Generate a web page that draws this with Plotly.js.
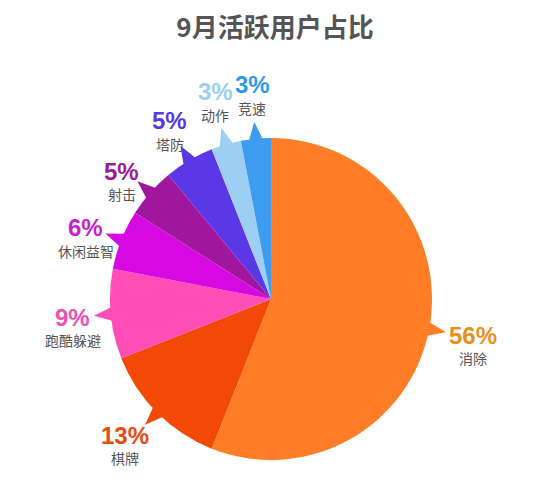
<!DOCTYPE html>
<html>
<head>
<meta charset="utf-8">
<script src="https://cdn.plot.ly/plotly-3.0.1.min.js"></script>
<style>
  html, body { margin: 0; padding: 0; background: #fff; }
  #chart { width: 557px; height: 486px; }
</style>
</head>
<body>
<div id="chart"></div>
<script>
const categories = ["消除", "棋牌", "跑酷躲避", "休闲益智", "射击", "塔防", "动作", "竞速"];
const shares = [56, 13, 9, 6, 5, 5, 3, 3];
const sliceColors = ["#FF7D26", "#F24A06", "#FF4DB8", "#D60AE0", "#A0169C", "#5B38E6", "#9DCFF5", "#3D9BF0"];
const labelColors = ["#E8901A", "#E84A10", "#F050B0", "#C81ED0", "#9C1A96", "#5A3AD8", "#9DCFF0", "#2E9BE8"];

const W = 557, H = 486;
// pie placement in pixels
const cx = 271, cy = 299, r = 161;

const trace = {
  type: "pie",
  values: shares,
  labels: categories,
  sort: false,
  direction: "clockwise",
  rotation: 0,
  marker: { colors: sliceColors, line: { width: 0 } },
  textinfo: "none",
  hoverinfo: "label+percent",
  domain: {
    x: [(cx - r) / W, (cx + r) / W],
    y: [(H - cy - r) / H, (H - cy + r) / H]
  },
  showlegend: false
};

const toPaper = (px, py) => [px / W, 1 - py / H];
const polar = (deg, R) => {
  const a = deg * Math.PI / 180;
  return [cx + R * Math.sin(a), cy - R * Math.cos(a)];
};
const clamp = (v, lo, hi) => Math.min(hi, Math.max(lo, v));

const labelFont = "Liberation Sans, Noto Sans CJK SC, sans-serif";
const total = shares.reduce((a, b) => a + b, 0);
const shapes = [];
const annotations = [];
let acc = 0;
shares.forEach((v, i) => {
  const mid = (acc + v / 2) / total * 360;
  acc += v;

  // little pointer wedge
  const half = 2.8;
  const b1 = polar(mid - half, r - 3);
  const b2 = polar(mid + half, r - 3);
  const tip = polar(mid, r + 17);
  const p = [b1, tip, b2].map(pt => toPaper(pt[0], pt[1]));
  shapes.push({
    type: "path",
    xref: "paper", yref: "paper",
    path: `M${p[0][0]},${p[0][1]} L${p[1][0]},${p[1][1]} L${p[2][0]},${p[2][1]} Z`,
    fillcolor: sliceColors[i],
    line: { width: 0 }
  });

  // percentage next to the tip, name underneath
  const a = mid * Math.PI / 180;
  const dx = Math.sin(a), dy = -Math.cos(a);
  const wp = String(v).length * 13.3 + 21.3;
  const hp = 22, g = 4;
  const px = tip[0] + dx * (g + wp / 2);
  const py = tip[1] + dy * (g + hp / 2) - 22 * clamp((-dy - 0.75) / 0.2, 0, 1);

  const pp = toPaper(px, py);
  annotations.push({
    xref: "paper", yref: "paper",
    x: pp[0], y: pp[1],
    xanchor: "center", yanchor: "middle",
    showarrow: false,
    text: `<b>${v}%</b>`,
    font: { family: labelFont, size: 24, color: labelColors[i] }
  });
  const np = toPaper(px, py + 23);
  annotations.push({
    xref: "paper", yref: "paper",
    x: np[0], y: np[1],
    xanchor: "center", yanchor: "middle",
    showarrow: false,
    text: categories[i],
    font: { family: "Noto Sans CJK SC, sans-serif", size: 14, color: "#555555" }
  });
});

const layout = {
  width: W,
  height: H,
  margin: { l: 0, r: 0, t: 0, b: 0 },
  paper_bgcolor: "#ffffff",
  title: {
    text: "9月活跃用户占比",
    x: 275 / W, xanchor: "center",
    y: 1 - 28 / H, yanchor: "middle",
    font: { family: "Noto Sans CJK SC, sans-serif", size: 26, weight: 700, color: "#555555" }
  },
  shapes: shapes,
  annotations: annotations
};

Plotly.newPlot("chart", [trace], layout, { displayModeBar: false, staticPlot: true });
</script>
</body>
</html>
